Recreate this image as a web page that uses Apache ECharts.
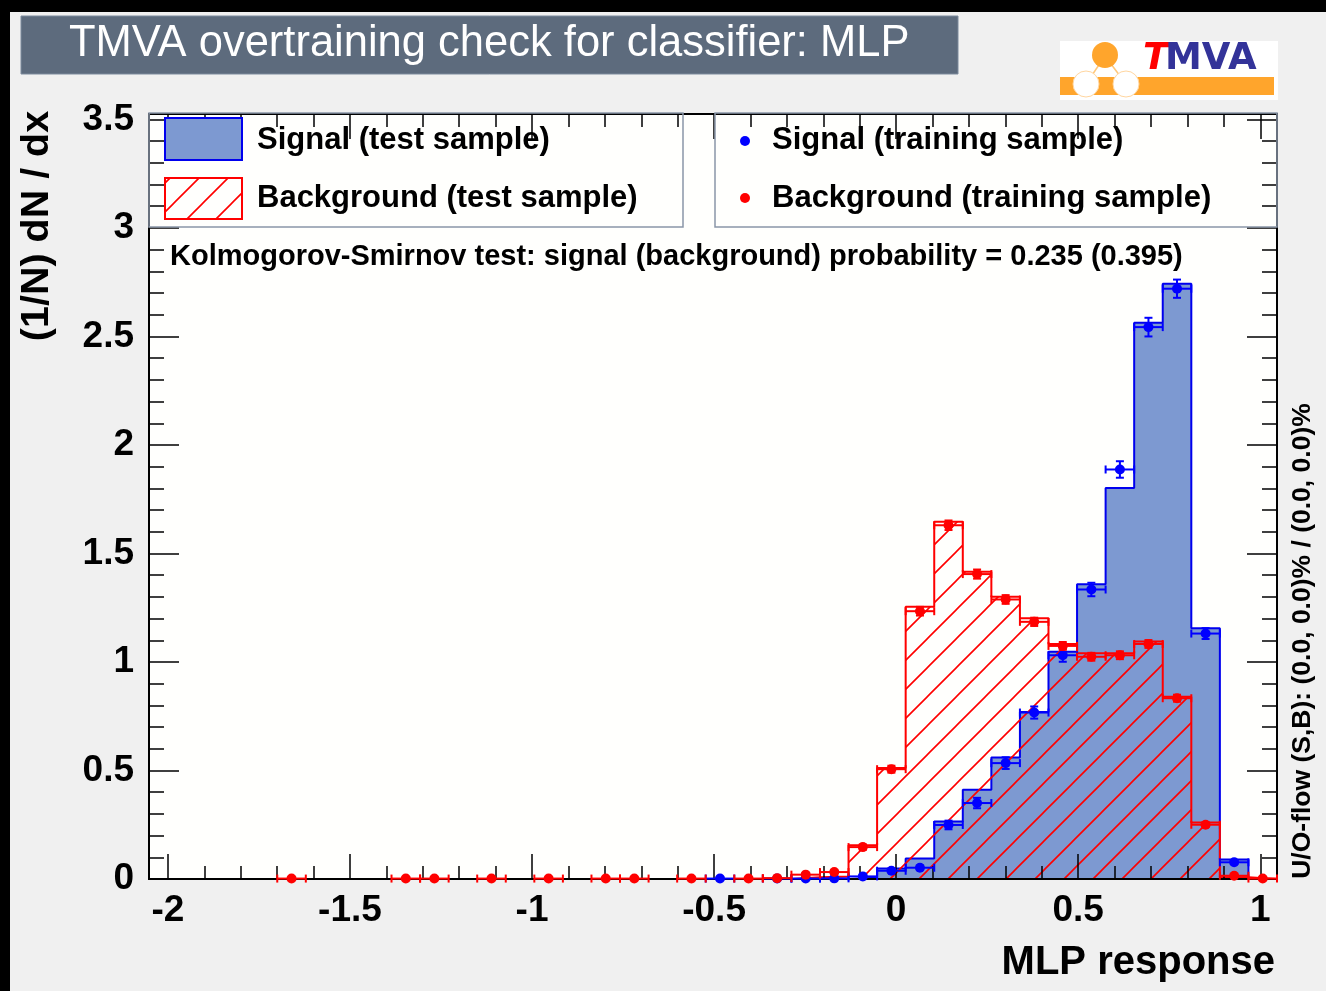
<!DOCTYPE html>
<html>
<head>
<meta charset="utf-8">
<title>TMVA overtraining check for classifier: MLP</title>
<script src="https://cdn.jsdelivr.net/npm/echarts@6/dist/echarts.min.js"></script>
<style>
  html, body { margin: 0; padding: 0; background: #f0f0f0; }
  #chart { width: 1326px; height: 991px; }
</style>
</head>
<body>
<div id="chart"></div>
<script>
// Histogram binning of the MLP response (40 equal bins)
const HIST_MIN = -2.092;
const HIST_MAX = 1.046;
const N_BINS = 40;

// Visible frame range
const X_MIN = -2.052;
const X_MAX = 1.046;
const Y_MIN = 0;
const Y_MAX = 3.525;

// Axis tick positions
const X_MAJOR_TICKS = [-2, -1.5, -1, -0.5, 0, 0.5, 1];
const X_MINOR_STEP = 0.1;

// Normalised test-sample histograms, (1/N) dN/dx per bin
const sigTest = [
  0, 0, 0, 0, 0, 0, 0, 0, 0, 0,
  0, 0, 0, 0, 0, 0, 0, 0, 0, 0,
  0, 0, 0, 0, 0, 0.006, 0.048, 0.095, 0.265, 0.411,
  0.560, 0.769, 1.047, 1.358, 1.802, 2.563, 2.743, 1.155, 0.090, 0
];
const bkgTest = [
  0, 0, 0, 0, 0, 0, 0, 0, 0, 0,
  0, 0, 0, 0, 0, 0, 0, 0, 0, 0,
  0, 0, 0, 0.008, 0.012, 0.155, 0.511, 1.254, 1.646, 1.416,
  1.300, 1.201, 1.083, 1.040, 1.040, 1.094, 0.840, 0.260, 0.008, 0
];

// Training-sample points (null = empty bin) and their statistical errors
const sigTrain = [
  null, null, null, null, null, null, null, null, null, null,
  null, null, null, null, null, null, null, null, null, null,
  0.002, null, 0.002, 0.002, 0.003, 0.012, 0.038, 0.052, 0.249, 0.350,
  0.534, 0.767, 1.031, 1.334, 1.887, 2.543, 2.720, 1.131, 0.077, null
];
const sigTrainErr = [
  0, 0, 0, 0, 0, 0, 0, 0, 0, 0,
  0, 0, 0, 0, 0, 0, 0, 0, 0, 0,
  0.002, 0, 0.002, 0.002, 0.002, 0.004, 0.008, 0.010, 0.020, 0.024,
  0.027, 0.028, 0.030, 0.031, 0.038, 0.043, 0.042, 0.025, 0.007, 0
];
const bkgTrain = [
  null, null, null, null, null, 0.002, null, null, null, 0.002,
  0.002, null, 0.002, null, 0.002, null, 0.002, 0.002, null, 0.002,
  null, 0.002, 0.004, 0.020, 0.032, 0.147, 0.506, 1.234, 1.630, 1.405,
  1.288, 1.185, 1.074, 1.024, 1.031, 1.083, 0.833, 0.250, 0.015, 0.002
];
const bkgTrainErr = [
  0, 0, 0, 0, 0, 0.002, 0, 0, 0, 0.002,
  0.002, 0, 0.002, 0, 0.002, 0, 0.002, 0.002, 0, 0.002,
  0, 0.002, 0.002, 0.006, 0.008, 0.012, 0.016, 0.020, 0.022, 0.021,
  0.020, 0.019, 0.018, 0.018, 0.018, 0.018, 0.016, 0.010, 0.003, 0.002
];

// Text
const TITLE = 'TMVA overtraining check for classifier: MLP';
const X_TITLE = 'MLP response';
const Y_TITLE = '(1/N) dN / dx';
const LEGEND_LABELS = [
  'Signal (test sample)', 'Background (test sample)',
  'Signal (training sample)', 'Background (training sample)'
];
const KS_TEXT = 'Kolmogorov-Smirnov test: signal (background) probability = 0.235 (0.395)';
const FLOW_TEXT = 'U/O-flow (S,B): (0.0, 0.0)% / (0.0, 0.0)%';

// Colours
const SIG_LINE = '#0000ee';
const SIG_FILL = '#7d99d1';
const BKG_LINE = '#ff0000';
const TITLE_BOX = '#5D6B7D';
const FONT = '"Liberation Sans", Arial, Helvetica, sans-serif';

const BIN_WIDTH = (HIST_MAX - HIST_MIN) / N_BINS;
const binLeft = i => HIST_MIN + i * BIN_WIDTH;
const binCenter = i => HIST_MIN + (i + 0.5) * BIN_WIDTH;

// Minor x ticks every 0.1 between the labelled ones
const xMinorTicks = [];
for (let i = Math.ceil(X_MIN / X_MINOR_STEP); i * X_MINOR_STEP <= X_MAX; i++) {
  if (i % 5 !== 0) xMinorTicks.push(Math.round(i * X_MINOR_STEP * 10) / 10);
}

// Step outline points: left edge of every bin plus the closing right edge
function stepData(values) {
  const d = values.map((v, i) => [binLeft(i), v]);
  d.push([HIST_MAX, values[values.length - 1]]);
  return d;
}

// Points with errors, skipping empty bins
function pointData(values, errors) {
  const d = [];
  values.forEach((v, i) => {
    if (v !== null) d.push([binCenter(i), v, errors[i]]);
  });
  return d;
}

// Diagonal hatch tile for the background fill
function hatchTile(color, step) {
  const c = document.createElement('canvas');
  c.width = step; c.height = step;
  const g = c.getContext('2d');
  g.strokeStyle = color;
  g.lineWidth = 1.6;
  g.beginPath();
  g.moveTo(-1, step + 1); g.lineTo(step + 1, -1);
  g.moveTo(-2, 2); g.lineTo(2, -2);
  g.moveTo(step - 2, step + 2); g.lineTo(step + 2, step - 2);
  g.stroke();
  return c;
}
const hatch = { image: hatchTile(BKG_LINE, 29), repeat: 'repeat' };

// Marker with horizontal bin-width bar and vertical error bar, ROOT "E1" style
function errorBarRenderer(color) {
  return function (params, api) {
    const xc = api.value(0), v = api.value(1), e = api.value(2);
    const hw = BIN_WIDTH / 2;
    const pL = api.coord([xc - hw, v]);
    const pR = api.coord([xc + hw, v]);
    const pC = api.coord([xc, v]);
    const pT = api.coord([xc, v + e]);
    const pB = api.coord([xc, Math.max(v - e, 0)]);
    const cap = 4;
    const st = { stroke: color, lineWidth: 2 };
    const seg = (x1, y1, x2, y2) => ({ type: 'line', shape: { x1, y1, x2, y2 }, style: st });
    return {
      type: 'group',
      children: [
        seg(pL[0], pL[1], pR[0], pR[1]),
        seg(pL[0], pL[1] - cap, pL[0], pL[1] + cap),
        seg(pR[0], pR[1] - cap, pR[0], pR[1] + cap),
        seg(pT[0], pT[1], pB[0], pB[1]),
        seg(pT[0] - cap, pT[1], pT[0] + cap, pT[1]),
        seg(pB[0] - cap, pB[1], pB[0] + cap, pB[1]),
        { type: 'circle', shape: { cx: pC[0], cy: pC[1], r: 5 }, style: { fill: color } }
      ]
    };
  };
}

const tickLabel = { fontFamily: FONT, fontWeight: 'bold', fontSize: 37, color: '#000' };
const axisLineStyle = { color: '#000', width: 2 };
const tickStyle = { color: '#000', width: 1.5 };

// x axes: labelled ticks on grid 0, short ticks on the overlaid grid 1
function xAxisDef(gridIndex, position, ticks, length, labels) {
  return {
    type: 'value', gridIndex, position, min: X_MIN, max: X_MAX, z: 10,
    axisLine: { show: true, onZero: false, lineStyle: axisLineStyle },
    axisTick: { show: true, inside: true, length, customValues: ticks, lineStyle: tickStyle },
    minorTick: { show: false },
    axisLabel: labels
      ? Object.assign({ margin: 13, customValues: ticks }, tickLabel)
      : { show: false },
    splitLine: { show: false }
  };
}
function yAxisDef(position, labels) {
  return {
    type: 'value', gridIndex: 0, position, min: Y_MIN, max: Y_MAX, interval: 0.5, z: 10,
    axisLine: { show: true, onZero: false, lineStyle: axisLineStyle },
    axisTick: { show: true, inside: true, length: 30, lineStyle: tickStyle },
    minorTick: { show: true, splitNumber: 5, length: 15, lineStyle: tickStyle },
    axisLabel: labels
      ? Object.assign({ margin: 15, showMaxLabel: false }, tickLabel)
      : { show: false },
    splitLine: { show: false }, minorSplitLine: { show: false }
  };
}

const boldText = (size) => ({ fontFamily: FONT, fontWeight: 'bold', fontSize: size, fill: '#000' });
const gridBox = { left: 149, right: 49, top: 114, bottom: 112 };

const chart = echarts.init(document.getElementById('chart'), null, { renderer: 'canvas' });
chart.setOption({
  animation: false,
  backgroundColor: '#f0f0f0',
  grid: [
    Object.assign({ show: true, backgroundColor: '#fffffd', borderWidth: 0 }, gridBox),
    Object.assign({ show: false }, gridBox)
  ],
  xAxis: [
    xAxisDef(0, 'bottom', X_MAJOR_TICKS, 25, true),
    xAxisDef(0, 'top', X_MAJOR_TICKS, 25, false),
    xAxisDef(1, 'bottom', xMinorTicks, 13, false),
    xAxisDef(1, 'top', xMinorTicks, 13, false)
  ],
  yAxis: [
    yAxisDef('left', true),
    yAxisDef('right', false),
    { type: 'value', gridIndex: 1, min: Y_MIN, max: Y_MAX, show: false }
  ],
  series: [
    {
      type: 'line', name: LEGEND_LABELS[0], data: stepData(sigTest), step: 'end',
      xAxisIndex: 0, yAxisIndex: 0, symbol: 'none', silent: true, z: 2,
      lineStyle: { color: SIG_LINE, width: 2 },
      itemStyle: { color: SIG_LINE },
      areaStyle: { color: SIG_FILL, opacity: 1 }
    },
    {
      type: 'line', name: LEGEND_LABELS[1], data: stepData(bkgTest), step: 'end',
      xAxisIndex: 0, yAxisIndex: 0, symbol: 'none', silent: true, z: 3,
      lineStyle: { color: BKG_LINE, width: 2 },
      itemStyle: { color: BKG_LINE },
      areaStyle: { color: hatch, opacity: 1 }
    },
    {
      type: 'custom', name: LEGEND_LABELS[2], data: pointData(sigTrain, sigTrainErr),
      xAxisIndex: 0, yAxisIndex: 0,
      encode: { x: 0, y: 1 }, renderItem: errorBarRenderer('#0000ff'), z: 12, silent: true
    },
    {
      type: 'custom', name: LEGEND_LABELS[3], data: pointData(bkgTrain, bkgTrainErr),
      xAxisIndex: 0, yAxisIndex: 0,
      encode: { x: 0, y: 1 }, renderItem: errorBarRenderer('#ff0000'), z: 13, silent: true
    }
  ],
  graphic: [
    // canvas edge bands
    { type: 'rect', shape: { x: 0, y: 0, width: 1326, height: 12 }, style: { fill: '#000' } },
    { type: 'rect', shape: { x: 0, y: 0, width: 10, height: 991 }, style: { fill: '#000' } },
    // title box
    { type: 'rect', shape: { x: 21, y: 16, width: 937, height: 58 },
      style: { fill: TITLE_BOX, stroke: '#7D8B9D', lineWidth: 1 } },
    { type: 'text', x: 69, y: 44,
      style: { text: TITLE, fontFamily: FONT, fontSize: 43.5, fill: '#ffffff',
               align: 'left', verticalAlign: 'middle' } },
    // logo
    { type: 'rect', shape: { x: 1060, y: 41, width: 218, height: 59 }, style: { fill: '#ffffff' } },
    { type: 'rect', shape: { x: 1060, y: 77, width: 214, height: 18 }, style: { fill: '#ffa52c' } },
    { type: 'line', shape: { x1: 1105, y1: 56, x2: 1086, y2: 84 }, style: { stroke: '#ffc77a', lineWidth: 1.5 } },
    { type: 'line', shape: { x1: 1105, y1: 56, x2: 1126, y2: 84 }, style: { stroke: '#ffc77a', lineWidth: 1.5 } },
    { type: 'circle', shape: { cx: 1105, cy: 55, r: 13 }, style: { fill: '#ffa52c' } },
    { type: 'circle', shape: { cx: 1086, cy: 84, r: 13 }, style: { fill: '#ffffff', stroke: '#ffd6a0', lineWidth: 1 } },
    { type: 'circle', shape: { cx: 1126, cy: 84, r: 13 }, style: { fill: '#ffffff', stroke: '#ffd6a0', lineWidth: 1 } },
    { type: 'text', x: 1143, y: 78,
      style: { text: 'T', fontFamily: '"DejaVu Sans", sans-serif', fontWeight: 'bold', fontStyle: 'italic',
               fontSize: 37, fill: '#ff0000', align: 'left', verticalAlign: 'bottom' } },
    { type: 'text', x: 1165, y: 78,
      style: { text: 'MVA', fontFamily: '"DejaVu Sans", sans-serif', fontWeight: 'bold',
               fontSize: 37, fill: '#333399', align: 'left', verticalAlign: 'bottom' } },
    // legend boxes
    { type: 'rect', z: 20, shape: { x: 149, y: 113, width: 534, height: 114 },
      style: { fill: null, stroke: '#8a96a8', lineWidth: 1.5 } },
    { type: 'rect', z: 20, shape: { x: 715, y: 113, width: 562, height: 114 },
      style: { fill: null, stroke: '#8a96a8', lineWidth: 1.5 } },
    { type: 'rect', z: 20, shape: { x: 165, y: 118, width: 77, height: 42 },
      style: { fill: SIG_FILL, stroke: SIG_LINE, lineWidth: 2 } },
    { type: 'rect', z: 20, shape: { x: 165, y: 178, width: 77, height: 41 },
      style: { fill: hatch, stroke: BKG_LINE, lineWidth: 2 } },
    { type: 'text', z: 20, x: 257, y: 140,
      style: Object.assign({ text: LEGEND_LABELS[0], align: 'left', verticalAlign: 'middle' }, boldText(31)) },
    { type: 'text', z: 20, x: 257, y: 198,
      style: Object.assign({ text: LEGEND_LABELS[1], align: 'left', verticalAlign: 'middle' }, boldText(31)) },
    { type: 'circle', z: 20, shape: { cx: 745, cy: 141, r: 5 }, style: { fill: '#0000ff' } },
    { type: 'circle', z: 20, shape: { cx: 745, cy: 198, r: 5 }, style: { fill: '#ff0000' } },
    { type: 'text', z: 20, x: 772, y: 140,
      style: Object.assign({ text: LEGEND_LABELS[2], align: 'left', verticalAlign: 'middle' }, boldText(31)) },
    { type: 'text', z: 20, x: 772, y: 198,
      style: Object.assign({ text: LEGEND_LABELS[3], align: 'left', verticalAlign: 'middle' }, boldText(31)) },
    // KS test result
    { type: 'text', z: 20, x: 170, y: 257,
      style: Object.assign({ text: KS_TEXT, align: 'left', verticalAlign: 'middle' }, boldText(29)) },
    // axis titles
    { type: 'text', x: 1275, y: 963,
      style: Object.assign({ text: X_TITLE, align: 'right', verticalAlign: 'middle' }, boldText(40)) },
    { type: 'text', x: 37, y: 226, rotation: Math.PI / 2,
      style: Object.assign({ text: Y_TITLE, align: 'center', verticalAlign: 'middle' }, boldText(39.5)) },
    // under/overflow note
    { type: 'text', x: 1303, y: 641, rotation: Math.PI / 2,
      style: Object.assign({ text: FLOW_TEXT, align: 'center', verticalAlign: 'middle' }, boldText(26.5)) }
  ]
});
</script>
</body>
</html>
